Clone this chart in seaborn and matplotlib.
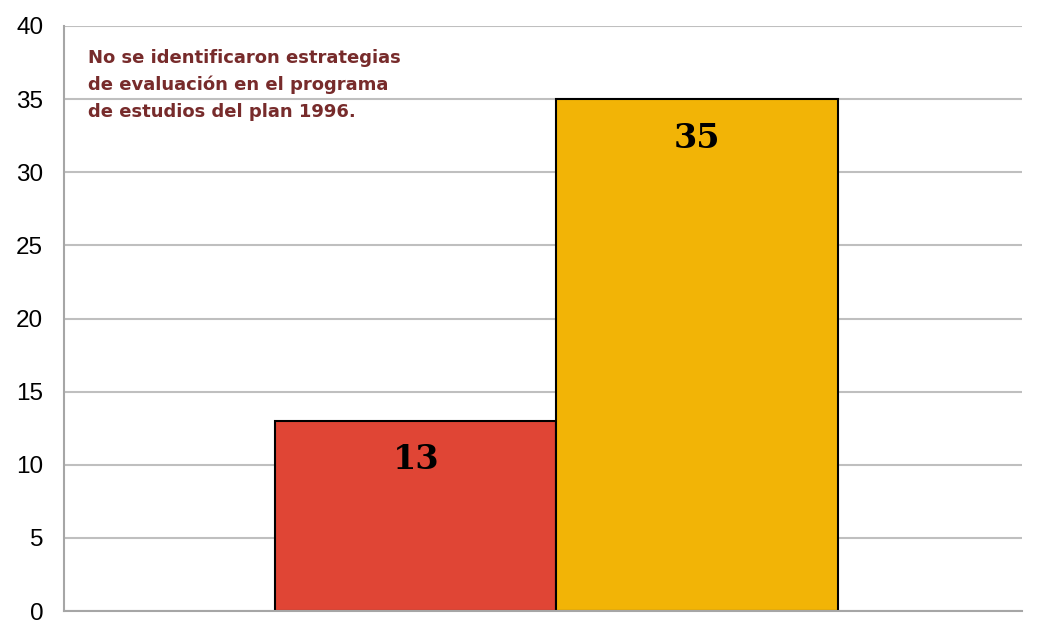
import matplotlib
matplotlib.use('Agg')
import matplotlib.pyplot as plt
import seaborn as sns
import pandas as pd

# data
categories = ['Plan 1996']
series = ['A', 'B']
values = [13, 35]
colors = ['#E04535', '#F2B406']
note = 'No se identificaron estrategias\nde evaluación en el programa\nde estudios del plan 1996.'


def main():
    sns.set_style('white')
    df = pd.DataFrame({'cat': categories * len(series), 'serie': series, 'valor': values})

    fig = plt.figure(figsize=(10.37, 6.22), dpi=100)
    ax = fig.add_axes([64 / 1037, 1 - 611 / 622, 958 / 1037, 585 / 622])

    sns.barplot(data=df, x='cat', y='valor', hue='serie', palette=colors, saturation=1,
                width=0.8, edgecolor='black', linewidth=1.5, legend=False, ax=ax)

    ax.set_xlim(-0.70, 0.662)
    ax.set_ylim(0, 40)
    ax.set_yticks(range(0, 41, 5))
    ax.yaxis.grid(True, color='#BFBFBF', linewidth=1.5)
    ax.set_axisbelow(True)
    ax.set_xticks([])
    ax.set_xlabel('')
    ax.set_ylabel('')
    ax.tick_params(axis='y', labelsize=17.5, length=0, pad=15, labelcolor='black')
    for lbl in ax.get_yticklabels():
        lbl.set_fontfamily('Liberation Sans')
    for side in ['top', 'right']:
        ax.spines[side].set_visible(False)
    for side in ['left', 'bottom']:
        ax.spines[side].set_color('#A6A6A6')
        ax.spines[side].set_linewidth(1.5)

    for bar, v in zip(ax.patches, values):
        ax.annotate(str(v), (bar.get_x() + bar.get_width() / 2, v),
                    xytext=(0, -28), textcoords='offset points',
                    ha='center', va='center', fontsize=24, fontweight='bold',
                    family='DejaVu Serif', color='black')

    fig.text(88 / 1037, 1 - 49 / 622, note, ha='left', va='top', fontsize=13,
             fontweight='bold', color='#772B2B', family='DejaVu Sans', linespacing=1.62)

    plt.savefig('out.png', dpi=100)
    plt.close()


if __name__ == '__main__':
    main()
